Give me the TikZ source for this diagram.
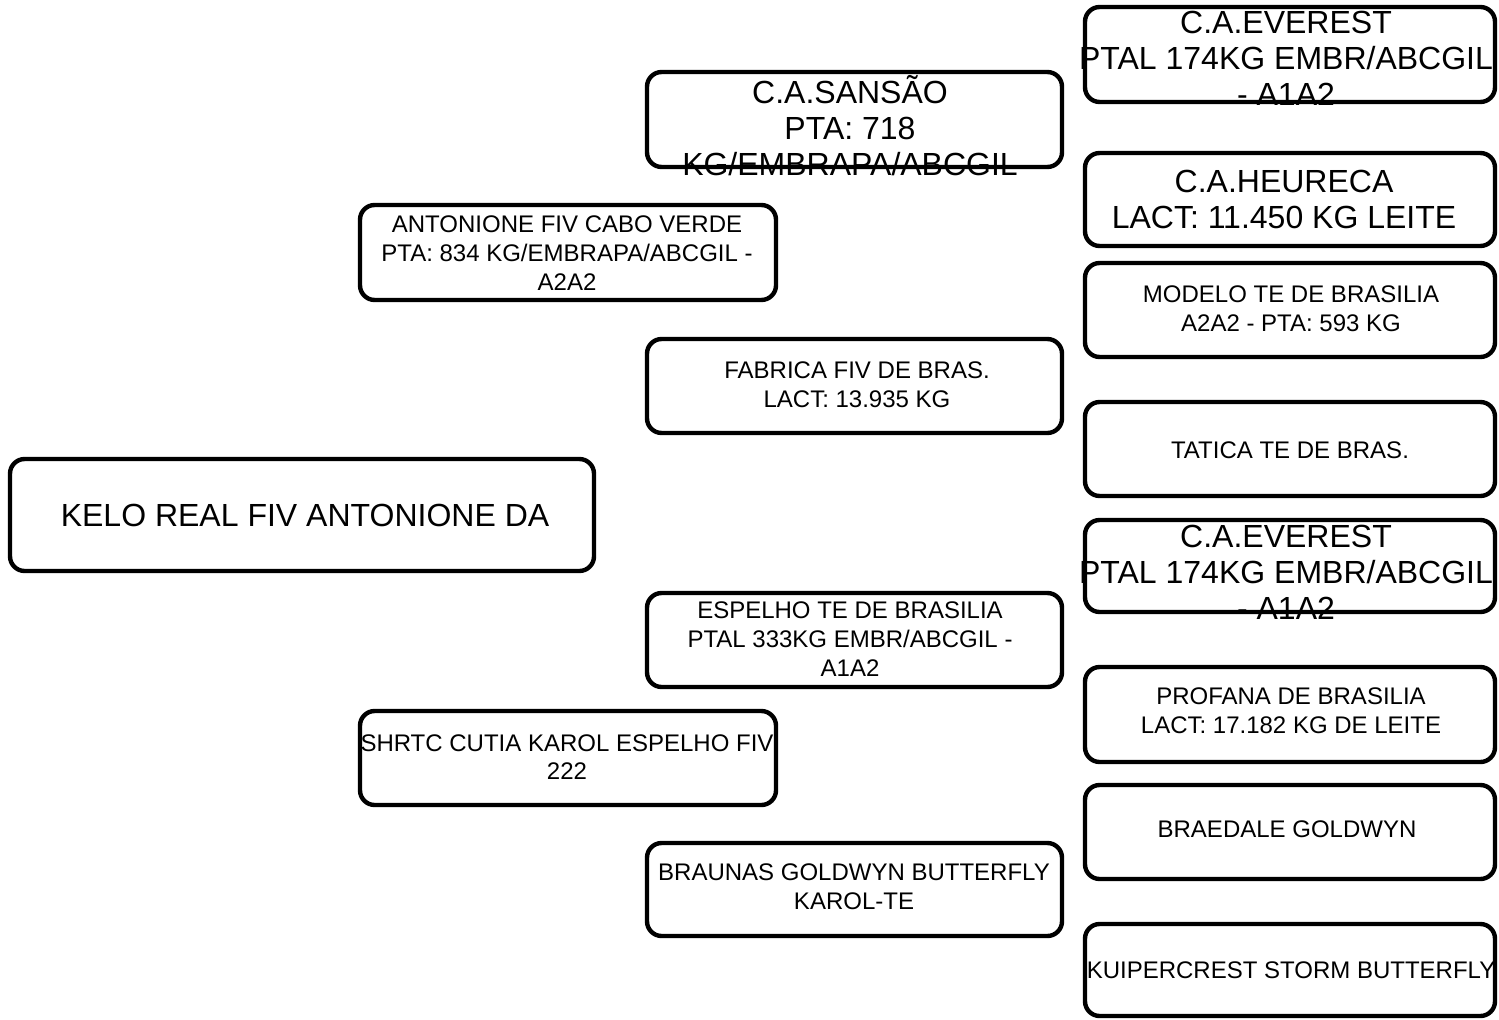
\documentclass[tikz,border=0pt]{standalone}
\usepackage{fontspec}
\setmainfont{Liberation Sans}
\begin{document}
\begin{tikzpicture}[x=0.75pt, y=-0.75pt,
	caixa/.style={draw=black, line width=3.3pt, rounded corners=11pt, fill=white},
	pequeno/.style={align=center, inner sep=0pt, font=\fontsize{18}{21.5}\selectfont},
	grande/.style={align=center, inner sep=0pt, font=\fontsize{24}{27}\selectfont}]
	\useasboundingbox (0,0) rectangle (1499,1020);
	% animal
	\draw[caixa] (10,459) rectangle (594,571);
	\node[grande] (kelo) at (305,515) {KELO REAL FIV ANTONIONE DA};
	% pais
	\draw[caixa] (360,205) rectangle (776,300);
	\node[pequeno] (antonione) at (567,253) {ANTONIONE FIV CABO VERDE\\PTA: 834 KG/EMBRAPA/ABCGIL -\\A2A2};
	\draw[caixa] (360,711) rectangle (776,805);
	\node[pequeno] (shrtc) at (567,757) {SHRTC CUTIA KAROL ESPELHO FIV\\222};
	% avos
	\draw[caixa] (647,72) rectangle (1062,167);
	\node[grande] (sansao) at (850,126) {C.A.SANS\~AO\\PTA: 718\\KG/EMBRAPA/ABCGIL};
	\draw[caixa] (647,339) rectangle (1062,433);
	\node[pequeno] (fabrica) at (857,385) {FABRICA FIV DE BRAS.\\LACT: 13.935 KG};
	\draw[caixa] (647,593) rectangle (1062,687);
	\node[pequeno] (espelho) at (850,639) {ESPELHO TE DE BRASILIA\\PTAL 333KG EMBR/ABCGIL -\\A1A2};
	\draw[caixa] (647,843) rectangle (1062,936);
	\node[pequeno] (braunas) at (854,887) {BRAUNAS GOLDWYN BUTTERFLY\\KAROL-TE};
	% bisavos
	\draw[caixa] (1085,7) rectangle (1495,102);
	\node[grande] (everestA) at (1286,58) {C.A.EVEREST\\PTAL 174KG EMBR/ABCGIL\\- A1A2};
	\draw[caixa] (1085,153) rectangle (1495,246);
	\node[grande] (heureca) at (1284,199) {C.A.HEURECA\\LACT: 11.450 KG LEITE};
	\draw[caixa] (1085,263) rectangle (1495,357);
	\node[pequeno] (modelo) at (1291,309) {MODELO TE DE BRASILIA\\A2A2 - PTA: 593 KG};
	\draw[caixa] (1085,402) rectangle (1495,496);
	\node[pequeno] (tatica) at (1290,450) {TATICA TE DE BRAS.};
	\draw[caixa] (1085,520) rectangle (1495,612);
	\node[grande] (everestB) at (1286,572) {C.A.EVEREST\\PTAL 174KG EMBR/ABCGIL\\- A1A2};
	\draw[caixa] (1085,667) rectangle (1495,762);
	\node[pequeno] (profana) at (1291,711) {PROFANA DE BRASILIA\\LACT: 17.182 KG DE LEITE};
	\draw[caixa] (1085,785) rectangle (1495,879);
	\node[pequeno] (braedale) at (1287,829) {BRAEDALE GOLDWYN};
	\draw[caixa] (1085,924) rectangle (1495,1016);
	\node[pequeno] (kuipercrest) at (1291,970) {KUIPERCREST STORM BUTTERFLY};
\end{tikzpicture}
\end{document}
